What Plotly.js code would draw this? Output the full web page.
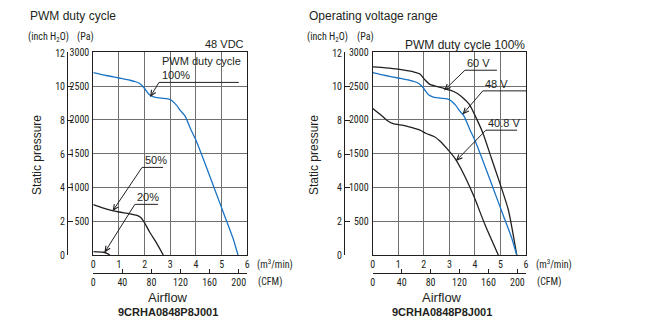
<!DOCTYPE html>
<html><head><meta charset="utf-8">
<script src="https://cdn.plot.ly/plotly-3.0.1.min.js"></script>
<style>html,body{margin:0;padding:0;background:#fff}#c{width:657px;height:333px}</style>
</head><body><div id="c"></div>
<script>
// ---- data (airflow m3/min, static pressure Pa) ----
const flowPWM100 = [0, 0.5, 1.0, 1.43, 1.65, 1.82, 2.0, 2.1, 2.2, 2.35, 2.5, 2.86, 3.0, 3.12, 3.25, 3.38, 3.57, 3.8, 4.0, 4.4, 4.74, 5.1, 5.44, 5.64];
const pressPWM100 = [2700, 2657, 2620, 2587, 2565, 2535, 2465, 2410, 2368, 2342, 2330, 2315, 2300, 2267, 2215, 2145, 2060, 1860, 1700, 1310, 964, 600, 255, 0];
const flowPWM50 = [0, 0.3, 0.7, 1.0, 1.4, 1.7, 1.85, 2.0, 2.2, 2.45, 2.73];
const pressPWM50 = [750, 710, 665, 640, 615, 590, 560, 480, 340, 190, 0];
const flowPWM20 = [0, 0.4, 0.55, 0.65];
const pressPWM20 = [55, 45, 25, 0];
const flow60V = [0, 0.5, 1.0, 1.4, 1.6, 1.85, 2.05, 2.24, 2.5, 2.8, 3.03, 3.3, 3.55, 3.8, 4.1, 4.33, 4.65, 4.98, 5.31, 5.64];
const press60V = [2784, 2770, 2750, 2725, 2710, 2680, 2590, 2525, 2495, 2465, 2440, 2395, 2320, 2220, 1990, 1790, 1430, 1063, 669, 0];
const flow48V = flowPWM100;
const press48V = pressPWM100;
const flow408V = [0, 0.3, 0.55, 0.8, 1.2, 1.5, 1.85, 2.1, 2.4, 2.63, 2.9, 3.22, 3.55, 3.94, 4.4, 4.92];
const press408V = [2170, 2080, 1997, 1945, 1920, 1890, 1849, 1800, 1755, 1690, 1580, 1432, 1210, 890, 447, 0];
const flowTicks = [0, 1, 2, 3, 4, 5, 6];
const cfmTicks = [0, 40, 80, 120, 160, 200];
const paTicks = [500, 1000, 1500, 2000, 2500, 3000];
const inchTicks = [0, 2, 4, 6, 8, 10, 12];

const M3_TO_CFM = 35.3147, INCH_TO_PA = 249.089;
const W = 657, H = 333;
const X = px => px / W, Y = py => 1 - py / H;
const INK = '#231f20', BLUE = '#1b74c5', GRID = '#707070';
const NARROW = "'Roboto Condensed', 'DejaVu Sans Condensed', sans-serif";
const SANS = "'Liberation Sans', Arial, Helvetica, sans-serif";
const tickFont = {family: NARROW, size: 10, color: INK};
const unitFont = {family: NARROW, size: 10, color: INK};

function line(x, y, color, xa, ya) {
  return {x, y, xaxis: xa, yaxis: ya, mode: 'lines', type: 'scatter', hoverinfo: 'skip',
          line: {color, width: 1.3, shape: 'spline', smoothing: 0.6}, showlegend: false};
}
const traces = [
  line(flowPWM100, pressPWM100, BLUE, 'x', 'y'),
  line(flowPWM50, pressPWM50, INK, 'x', 'y'),
  line(flowPWM20, pressPWM20, INK, 'x', 'y'),
  line(flow60V, press60V, INK, 'x3', 'y3'),
  line(flow48V, press48V, BLUE, 'x3', 'y3'),
  line(flow408V, press408V, INK, 'x3', 'y3'),
  {x: [], y: [], xaxis: 'x2', yaxis: 'y2', type: 'scatter', showlegend: false},
  {x: [], y: [], xaxis: 'x4', yaxis: 'y4', type: 'scatter', showlegend: false}
];

function mainX(dom, anchor) {
  return {domain: dom, anchor, range: [0, 6], tickvals: flowTicks, showgrid: true, gridcolor: GRID, gridwidth: 1,
          showline: true, mirror: true, linecolor: INK, linewidth: 1, ticks: '', zeroline: false, tickfont: tickFont, fixedrange: true};
}
function mainY(dom, anchor) {
  return {domain: dom, anchor, range: [0, 3000], tickvals: paTicks, showgrid: true, gridcolor: GRID, gridwidth: 1,
          showline: true, mirror: true, linecolor: INK, linewidth: 1, ticks: '', zeroline: false, tickfont: tickFont, ticklabelstandoff: 1, fixedrange: true};
}
function cfmX(dom, over) {
  return {domain: dom, overlaying: over, anchor: 'free', position: Y(273.3), side: 'bottom',
          range: [0, 6 * M3_TO_CFM], tickvals: cfmTicks, ticks: 'inside', ticklen: 4, tickcolor: INK,
          showline: true, linecolor: INK, linewidth: 1, showgrid: false, zeroline: false, tickfont: tickFont, fixedrange: true};
}
function inchY(dom, over, pos) {
  return {domain: dom, overlaying: over, anchor: 'free', position: pos, side: 'left',
          range: [0, 3000 / INCH_TO_PA], tickvals: inchTicks, ticks: 'inside', ticklen: 5, tickcolor: INK,
          showline: true, linecolor: INK, linewidth: 1, showgrid: false, zeroline: false, tickfont: tickFont, fixedrange: true};
}
const yDom = [Y(255.3), Y(52.3)];
const lDom = [X(93.3), X(247.3)], rDom = [X(372.7), X(526)];
// pixel scales (px per data unit), derived from domains
const sxL = (lDom[1] - lDom[0]) * W / 6, sxR = (rDom[1] - rDom[0]) * W / 6, sy = (yDom[1] - yDom[0]) * H / 3000;

const ann = [];
function ptxt(text, px, py, opt) {
  ann.push(Object.assign({text, x: X(px), y: Y(py), xref: 'paper', yref: 'paper', showarrow: false,
    xanchor: 'left', yanchor: 'middle', font: {family: SANS, size: 12, color: INK}}, opt || {}));
}
function dtxt(text, xa, ya, x, y, opt) {
  ann.push(Object.assign({text, x, y, xref: xa, yref: ya, showarrow: false, xanchor: 'left', yanchor: 'bottom',
    yshift: -1, font: {family: SANS, size: 11, color: INK}}, opt || {}));
}
const shapes = [];
function uline(xa, ya, x0, x1, y) {
  shapes.push({type: 'line', xref: xa, yref: ya, x0, x1, y0: y, y1: y, line: {color: INK, width: 1}});
}
function arrow(xa, ya, x0, y0, x1, y1, sx) {
  shapes.push({type: 'line', xref: xa, yref: ya, x0, y0, x1, y1, line: {color: INK, width: 1}});
  const dx = (x1 - x0) * sx, dy = (y1 - y0) * sy;
  const back = Math.atan2(dy, dx) + Math.PI, L = 6, a = 0.42;
  const p = t => `${(L * Math.cos(t)).toFixed(2)},${(L * Math.sin(t)).toFixed(2)}`;
  shapes.push({type: 'path', xref: xa, yref: ya, xsizemode: 'pixel', ysizemode: 'pixel', xanchor: x1, yanchor: y1,
    path: `M${p(back + a)} L0,0 L${p(back - a)}`, line: {color: INK, width: 1.1}});
}

// left chart texts
ptxt('PWM duty cycle', 28, 16);
ptxt('(inch H<sub>2</sub>O)', 26, 37, {font: unitFont});
ptxt('(Pa)', 75, 37, {font: unitFont});
ptxt('48 VDC', 246, 44, {xanchor: 'right', font: {family: SANS, size: 11, color: INK}});
ptxt('Static pressure', 37, 155, {xanchor: 'center', textangle: -90});
ptxt('(m<sup>3</sup>/min)', 255, 264, {font: unitFont});
ptxt('(CFM)', 256, 282, {font: unitFont});
ptxt('Airflow', 168, 297, {xanchor: 'center', font: {family: SANS, size: 13, color: INK}});
ptxt('9CRHA0848P8J001', 168, 312, {xanchor: 'center', font: {family: SANS, size: 11, color: INK, weight: 'bold'}});
// right chart texts
ptxt('Operating voltage range', 307, 16);
ptxt('(inch H<sub>2</sub>O)', 305, 37, {font: unitFont});
ptxt('(Pa)', 355, 37, {font: unitFont});
ptxt('PWM duty cycle 100%', 403, 45);
ptxt('Static pressure', 314, 155, {xanchor: 'center', textangle: -90});
ptxt('(m<sup>3</sup>/min)', 534, 264, {font: unitFont});
ptxt('(CFM)', 535, 282, {font: unitFont});
ptxt('Airflow', 442, 297, {xanchor: 'center', font: {family: SANS, size: 13, color: INK}});
ptxt('9CRHA0848P8J001', 442, 312, {xanchor: 'center', font: {family: SANS, size: 11, color: INK, weight: 'bold'}});

// left leaders
uline('x', 'y', 2.56, 5.67, 2555);
dtxt('PWM duty cycle<br>100%', 'x', 'y', 2.6, 2555, {align: 'left'});
arrow('x', 'y', 2.56, 2555, 2.24, 2356, sxL);
uline('x', 'y', 1.90, 2.72, 1299);
dtxt('50%', 'x', 'y', 1.92, 1299);
arrow('x', 'y', 1.90, 1299, 0.78, 669, sxL);
uline('x', 'y', 1.62, 2.52, 753);
dtxt('20%', 'x', 'y', 1.64, 753);
arrow('x', 'y', 1.62, 753, 0.46, 55, sxL);
// right leaders
uline('x3', 'y3', 3.61, 4.86, 2735);
dtxt('60 V', 'x3', 'y3', 3.63, 2735);
arrow('x3', 'y3', 3.61, 2735, 2.83, 2450, sxR);
uline('x3', 'y3', 4.31, 6.0, 2430);
dtxt('48 V', 'x3', 'y3', 4.33, 2430);
arrow('x3', 'y3', 4.31, 2430, 3.55, 2096, sxR);
uline('x3', 'y3', 4.43, 5.65, 1849);
dtxt('40.8 V', 'x3', 'y3', 4.45, 1849);
arrow('x3', 'y3', 4.43, 1849, 3.29, 1407, sxR);

const layout = {
  width: W, height: H, margin: {l: 0, r: 0, t: 0, b: 0}, paper_bgcolor: '#fff', plot_bgcolor: 'rgba(0,0,0,0)',
  showlegend: false, font: {family: SANS, color: INK},
  xaxis: mainX(lDom, 'y'), yaxis: mainY(yDom, 'x'),
  xaxis2: cfmX(lDom, 'x'), yaxis2: inchY(yDom, 'y', X(67)),
  xaxis3: mainX(rDom, 'y3'), yaxis3: mainY(yDom, 'x3'),
  xaxis4: cfmX(rDom, 'x3'), yaxis4: inchY(yDom, 'y3', X(344)),
  annotations: ann, shapes: shapes
};
Plotly.newPlot('c', traces, layout, {staticPlot: true, displayModeBar: false});
</script></body></html>
